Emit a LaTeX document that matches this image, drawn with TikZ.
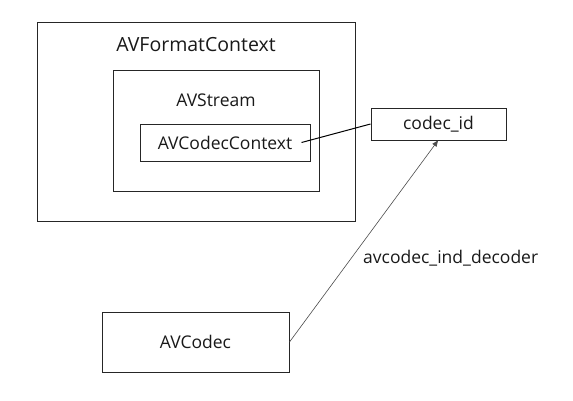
\documentclass[tikz,border=0pt]{standalone}
\usepackage{fontspec}
\setmainfont{Open Sans}
\usetikzlibrary{arrows.meta}
\begin{document}
\begin{tikzpicture}[x=1pt,y=-1pt,
  box/.style={draw=black!85,line width=1pt,fill=none},
  lbl/.style={font=\fontsize{17.5}{20}\selectfont,inner sep=0pt,text=black!90},
  big/.style={font=\fontsize{19.5}{22}\selectfont},
  conn/.style={draw=black,line width=1pt},
  arr/.style={draw=black!70,line width=0.6pt,-{Triangle[length=6pt,width=5pt]}}]
\useasboundingbox (0,0) rectangle (573,400);
\fill[white] (0,0) rectangle (573,400);
\draw[box] (37,22) rectangle (355,221);
\node[lbl,big] (fmt) at (196,45) {AVFormatContext};
\draw[box] (113,70) rectangle (319,191);
\node[lbl] (stream) at (216,100) {AVStream};
\draw[box] (140,124) rectangle (310,161);
\node[lbl] (ctx) at (225,143) {AVCodecContext};
\node[box,minimum width=135pt,minimum height=32pt,inner sep=0pt,lbl,draw] (cid) at (438.5,124) {codec\_id};
\node[box,minimum width=187pt,minimum height=60pt,inner sep=0pt,lbl,draw] (codec) at (195.5,342) {AVCodec};
\coordinate (ctxend) at (301.5,142.5);
\draw[conn] (ctxend) -- (cid.west);
\draw[arr] (codec.east) -- ([xshift=-0.5pt]cid.south);
\node[lbl,anchor=west] (fn) at (363,258) {avcodec\_ind\_decoder};
\end{tikzpicture}
\end{document}
